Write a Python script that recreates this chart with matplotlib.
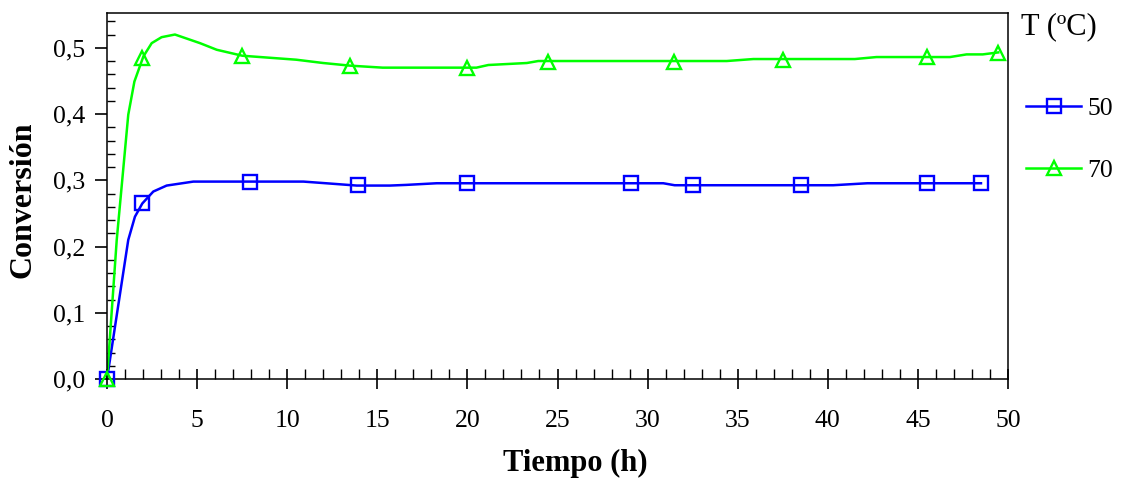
import matplotlib
matplotlib.use("Agg")
import matplotlib.pyplot as plt
from matplotlib.ticker import MultipleLocator, FuncFormatter

# Smoothed trend curves (time in h, conversion)
t_fit_50 = [0.0, 1.18, 1.55, 1.96, 2.57, 3.31, 4.05, 4.79, 10.9, 12.4, 13.86, 15.7,
            16.6, 18.3, 30.87, 31.5, 40.3, 42.2, 48.5]
x_fit_50 = [0.0, 0.21, 0.245, 0.265, 0.283, 0.292, 0.295, 0.298, 0.298, 0.295, 0.292, 0.292,
            0.293, 0.2955, 0.2955, 0.2925, 0.2925, 0.2955, 0.2955]

t_fit_70 = [0.0, 0.54, 1.18, 1.52, 2.02, 2.48, 3.03, 3.77, 5.16, 6.09, 7.51, 10.5, 12.0,
            13.5, 15.3, 20.5, 21.16, 23.3, 23.93, 34.39, 35.87, 41.5, 42.7, 46.78, 47.7,
            48.6, 49.46]
x_fit_70 = [0.0, 0.21, 0.399, 0.449, 0.487, 0.507, 0.516, 0.520, 0.507, 0.497, 0.488, 0.482,
            0.477, 0.473, 0.470, 0.470, 0.474, 0.477, 0.480, 0.480, 0.483, 0.483, 0.486,
            0.486, 0.490, 0.490, 0.493]

# Measured points
t_pts_50 = [0.0, 1.96, 7.94, 13.95, 19.96, 29.06, 32.5, 38.5, 45.5, 48.5]
x_pts_50 = [0.0, 0.265, 0.298, 0.293, 0.2955, 0.2955, 0.2925, 0.2925, 0.2955, 0.2955]

t_pts_70 = [0.0, 1.96, 7.5, 13.49, 19.96, 24.49, 31.47, 37.5, 45.49, 49.46]
x_pts_70 = [0.0, 0.484, 0.488, 0.473, 0.469, 0.479, 0.479, 0.482, 0.486, 0.492]

series_labels = ["50", "70"]
legend_title = "T (ºC)"
x_label = "Tiempo (h)"
y_label = "Conversión"

plt.rcParams['font.family'] = ['Liberation Serif', 'DejaVu Serif']

W, H = 1127, 479
fig = plt.figure(figsize=(W / 100, H / 100), dpi=100)
ax = fig.add_axes([107 / W, 1 - 379 / H, (1008 - 107) / W, (379 - 13) / H])

blue = "#0000FF"
green = "#00FF00"
lw = 1.8

ax.plot(t_fit_50, x_fit_50, color=blue, lw=lw, zorder=2)
ax.plot(t_fit_70, x_fit_70, color=green, lw=lw, zorder=2)
ax.plot(t_pts_50, x_pts_50, ls="none", marker="s", ms=9.5, mfc="none", mec=blue, mew=1.7,
        zorder=3, clip_on=False)
ax.plot(t_pts_70, x_pts_70, ls="none", marker="^", ms=10.5, mfc="none", mec=green, mew=1.7,
        zorder=3, clip_on=False)

# Legend proxies combine line and marker
h50, = ax.plot([], [], color=blue, lw=lw, marker="s", ms=9.5, mfc="none", mec=blue, mew=1.7)
h70, = ax.plot([], [], color=green, lw=lw, marker="^", ms=10.5, mfc="none", mec=green, mew=1.7)

ax.set_xlim(0, 50)
ax.set_ylim(0, 0.5525)

ax.xaxis.set_major_locator(MultipleLocator(5))
ax.xaxis.set_minor_locator(MultipleLocator(1))
ax.yaxis.set_major_locator(MultipleLocator(0.1))
ax.yaxis.set_minor_locator(MultipleLocator(0.02))
ax.yaxis.set_major_formatter(FuncFormatter(lambda v, p: f"{v:.1f}".replace(".", ",")))

ax.tick_params(axis="x", which="major", direction="inout", length=14, width=1.2, labelsize=18.5, pad=15)
ax.tick_params(axis="x", which="minor", direction="in", length=7, width=1.0)
ax.tick_params(axis="y", which="major", direction="out", length=9, width=1.2, labelsize=18.5, pad=7)
ax.tick_params(axis="y", which="minor", direction="in", length=6, width=1.0)

for s in ax.spines.values():
    s.set_linewidth(1.1)

ax.set_xlabel(x_label, fontsize=22, fontweight="bold")
ax.set_ylabel(y_label, fontsize=23, fontweight="bold")
ax.xaxis.set_label_coords((575 - 107) / 901, -(449 - 379) / 366)
ax.yaxis.set_label_coords((37 - 107) / 901, (379 - 200) / 366)

fig.text(1021 / W, 1 - 27 / H, legend_title, fontsize=22, ha="left", va="center")

leg = ax.legend([h50, h70], series_labels, loc="center left",
                bbox_to_anchor=(1026 / W, 1 - 139.5 / H), bbox_transform=fig.transFigure,
                frameon=False, fontsize=18.5, handlelength=2.15,
                handletextpad=0.25, labelspacing=1.55, borderaxespad=0, borderpad=0)

fig.savefig("out.png", dpi=100)
